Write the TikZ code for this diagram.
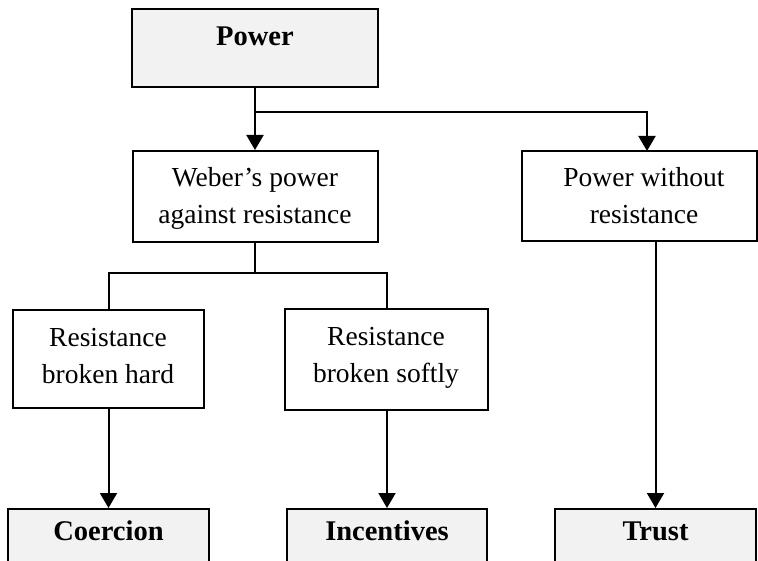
\documentclass[tikz,border=0pt]{standalone}
\usepackage{fontspec}
\setmainfont{Liberation Serif}
\usetikzlibrary{arrows.meta}
\definecolor{boxgray}{HTML}{F2F2F2}
\begin{document}
\begin{tikzpicture}[x=1pt,y=-1pt,
  box/.style={draw=black, line width=2pt, inner sep=0pt},
  graybox/.style={box, fill=boxgray},
  plainbox/.style={box, fill=white},
  lbl/.style={font=\fontsize{27.5}{37}\selectfont, align=center, inner sep=0pt, anchor=base},
  boldlbl/.style={font=\fontsize{28.5}{34}\selectfont\bfseries, inner sep=0pt, anchor=base},
  wire/.style={line width=2pt},
  arrowwire/.style={wire, -{Triangle[length=15pt,width=17pt]}}
]
\useasboundingbox (0,0) rectangle (758,561);
\clip (0,0) rectangle (758,561);

% boxes
\node[graybox, minimum width=246, minimum height=78] (power) at (255,48) {};
\node[plainbox, minimum width=245, minimum height=91] (weber) at (255,196.5) {};
\node[plainbox, minimum width=235, minimum height=90] (pwo) at (639.5,196) {};
\node[plainbox, minimum width=191, minimum height=98] (hard) at (108.5,359) {};
\node[plainbox, minimum width=203, minimum height=101] (soft) at (386.5,359.5) {};
\node[graybox, minimum width=201, minimum height=100] (coercion) at (108.5,559) {};
\node[graybox, minimum width=200, minimum height=100] (incentives) at (387,559) {};
\node[graybox, minimum width=201, minimum height=100] (trust) at (655.5,559) {};

% labels (base anchor sits on the last line)
\node[boldlbl] (powerlbl) at (255,46) {Power};
\node[lbl] (weberlbl) at (255,224) {Weber’s power\\against resistance};
\node[lbl] (pwolbl) at (644,224) {Power without\\resistance};
\node[lbl] (hardlbl) at (108,384) {Resistance\\broken hard};
\node[lbl] (softlbl) at (386,382) {Resistance\\broken softly};
\node[boldlbl] (coercionlbl) at (108.5,540) {Coercion};
\node[boldlbl] (incentiveslbl) at (387,540) {Incentives};
\node[boldlbl] (trustlbl) at (655.5,540) {Trust};

% connectors
\coordinate (split) at (255,112);
\coordinate (pwotop) at (647,151);
\coordinate (wsplit) at (255,273);
\draw[arrowwire] (power.south) -- (weber.north);
\draw[arrowwire] (split) -| (pwotop);
\draw[wire] (weber.south) -- (wsplit);
\draw[wire] (hard.north) -- (hard.north |- wsplit) -- (soft.north |- wsplit) -- (soft.north);
\draw[arrowwire] (hard.south) -- (coercion.north);
\draw[arrowwire] (soft.south -| incentives.north) -- (incentives.north);
\draw[arrowwire] (pwo.south -| trust.north) -- (trust.north);
\end{tikzpicture}
\end{document}
